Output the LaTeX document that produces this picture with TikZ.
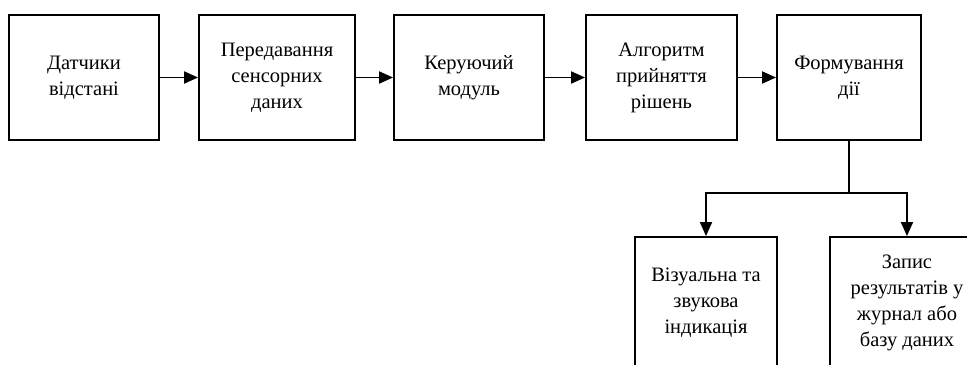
\documentclass[tikz,border=0pt]{standalone}
\usepackage{fontspec}
\setmainfont{Liberation Serif}
\usetikzlibrary{arrows.meta}
\tikzset{
  blok/.style={draw, line width=1.6pt, align=center, inner sep=2pt,
    minimum height=3.75cm, font=\fontsize{17.5}{22.2}\selectfont},
  strilka/.style={-{Triangle[length=0.42cm,width=0.36cm]}, line width=1.6pt}
}
\begin{document}
\begin{tikzpicture}[x=0.03cm, y=-0.03cm]
    \useasboundingbox (0,0) rectangle (967,365);
    \clip (0,0) rectangle (967,365);
    \node [blok, minimum width=4.5cm] (A) at (84,77.5) {Датчики\\відстані};
    \node [blok, minimum width=4.68cm] (B) at (277,77.5) {Передавання\\сенсорних\\даних};
    \node [blok, minimum width=4.5cm] (C) at (469,77.5) {Керуючий\\модуль};
    \node [blok, minimum width=4.53cm] (D) at (661.5,77.5) {Алгоритм\\прийняття\\рішень};
    \node [blok, minimum width=4.32cm] (E) at (849,77.5) {Формування\\дії};
    \node [blok, minimum width=4.26cm, minimum height=3.93cm] (G) at (706,302.5)
          {Візуальна та\\звукова\\індикація};
    \node [blok, minimum width=4.62cm, minimum height=3.93cm] (H) at (907,302.5)
          {Запис\\результатів у\\журнал або\\базу даних};
    \coordinate (F) at (849,193);
    \draw [strilka] (A) -- (B);
    \draw [strilka] (B) -- (C);
    \draw [strilka] (C) -- (D);
    \draw [strilka] (D) -- (E);
    \draw [line width=1.6pt] (E) -- (F);
    \draw [strilka] (F) -| (G);
    \draw [strilka] (F) -| (H);
  \end{tikzpicture}
\end{document}
